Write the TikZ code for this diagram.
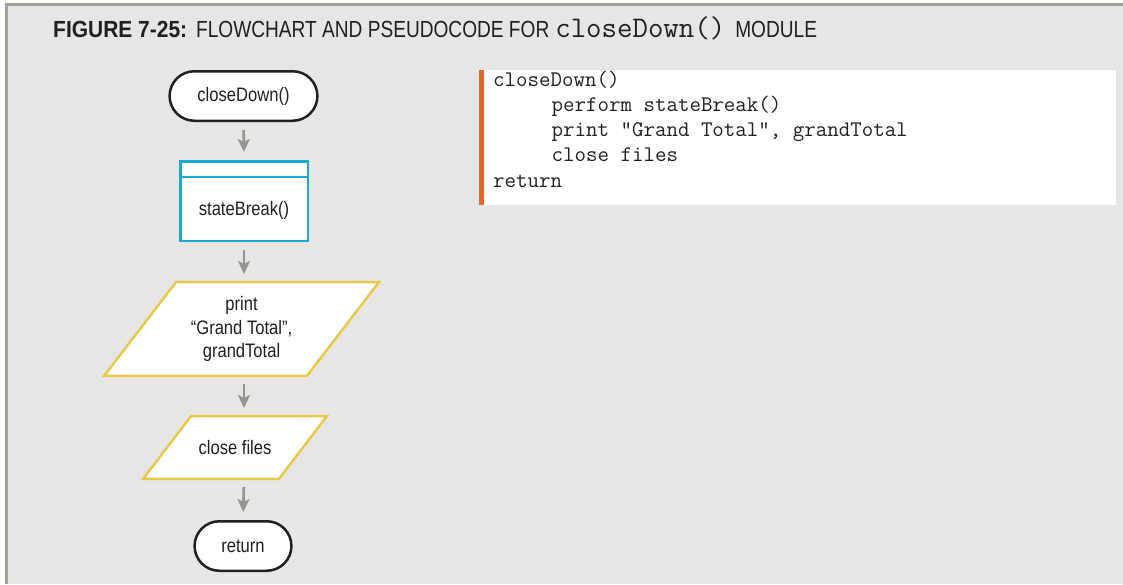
\documentclass[tikz,border=0pt]{standalone}
\usepackage{fontspec}
\usepackage{xcolor}
\usepackage{tikz}
\usetikzlibrary{arrows.meta,positioning,shapes.misc}

\newfontfamily\boxfont{Liberation Sans}[FakeStretch=0.85]
\newfontfamily\headfont{Liberation Sans}[FakeStretch=0.82]
\newfontfamily\headbold{Liberation Sans}[FakeStretch=0.9]

\definecolor{panel}{HTML}{E6E6E4}
\definecolor{rim}{HTML}{A2A29A}
\definecolor{ink}{HTML}{231F20}
\definecolor{modcyan}{HTML}{19AACF}
\definecolor{ioyellow}{HTML}{E9C94C}
\definecolor{barorange}{HTML}{E2692B}
\definecolor{flowgray}{HTML}{95958D}

\pgfdeclarelayer{background}
\pgfsetlayers{background,main}

\begin{document}
\begin{tikzpicture}[
  x=1pt, y=-1pt,
  label font/.style={font=\boxfont\fontsize{19.5}{23.5}\selectfont, text=ink},
  terminal/.style={rounded rectangle, draw=ink, line width=2.5pt, fill=white, minimum height=49.5pt, label font},
  module/.style={rectangle, draw=modcyan, line width=2.5pt, fill=white, minimum width=127.5pt, minimum height=79.5pt},
  io/.style={rectangle, inner sep=0, align=center, label font},
  ioframe/.style={draw=ioyellow, line width=2.5pt, fill=white, line join=miter},
  flow/.style={-{Stealth[length=13pt, width=12pt, inset=3pt]}, line width=2.6pt, draw=flowgray, fill=flowgray, shorten <=8pt, shorten >=8pt}
]
  % Frame
  \useasboundingbox (0,0) rectangle (1123,584);
  \begin{pgfonlayer}{background}
    \fill[white] (0,0) rectangle (1123,584);
    \fill[panel] (6.5,4.5) rectangle (1123,584);
    \draw[rim, line width=2.8pt] (6.5,584) -- (6.5,4.5) -- (1123,4.5);
  \end{pgfonlayer}

  % Title
  \node[anchor=base west, inner sep=0, text=ink] (title) at (53,37)
    {{\headbold\bfseries\fontsize{23.3}{28}\selectfont FIGURE 7-25:}\hspace*{9pt}%
     {\headfont\fontsize{23.3}{28}\selectfont FLOWCHART AND PSEUDOCODE FOR}\hspace*{6pt}%
     {\ttfamily\fontsize{30}{30}\selectfont closeDown()}\hspace*{10pt}%
     {\headfont\fontsize{23.3}{28}\selectfont MODULE}};

  % Flowchart
  \node[terminal, minimum width=154.5pt] (start) at (243.5,96) {closeDown()};
  \node[module] (brk) at (244,201) {};
  \draw[modcyan, line width=2.5pt] (brk.north west |- 0,177) -- (brk.north east |- 0,177);
  \node[label font] (brklabel) at (244,210) {stateBreak()};
  \node[io, minimum width=274.5pt, minimum height=93.5pt] (prn) at (241.5,329)
    {print\\“Grand Total”,\\grandTotal};
  \node[io, minimum width=183.5pt, minimum height=62.5pt] (cls) at (235,447.5) {close files};
  \node[terminal, minimum width=103.5pt] (done) at (243,546) {return};

  % Parallelogram outlines
  \begin{pgfonlayer}{background}
    \draw[ioframe] ([xshift=72pt]prn.north west) -- (prn.north east)
      -- ([xshift=-72pt]prn.south east) -- (prn.south west) -- cycle;
    \draw[ioframe] ([xshift=48pt]cls.north west) -- (cls.north east)
      -- ([xshift=-48pt]cls.south east) -- (cls.south west) -- cycle;
  \end{pgfonlayer}

  % Connectors
  \draw[flow] (start.south) -- (brk.north);
  \draw[flow] (brk.south) -- (brk.south |- prn.north);
  \draw[flow] (brk.south |- prn.south) -- (brk.south |- cls.north);
  \draw[flow] (brk.south |- cls.south) -- (done.north);

  % Pseudocode
  \node[rectangle, fill=white, minimum width=637pt, minimum height=135pt, inner sep=0] (code) at (797.5,137.5) {};
  \draw[barorange, line width=5pt] ([xshift=2.5pt]code.north west) -- ([xshift=2.5pt]code.south west);
  \node[anchor=north west, inner sep=0, align=left, text=ink,
    font=\ttfamily\fontsize{22.3}{25.25}\selectfont] (codelines) at (493,70.5)
    {closeDown()\\
     \hspace*{58.5pt}perform stateBreak()\\
     \hspace*{58.5pt}print "Grand Total", grandTotal\\
     \hspace*{58.5pt}close files\\
     return};
\end{tikzpicture}
\end{document}
